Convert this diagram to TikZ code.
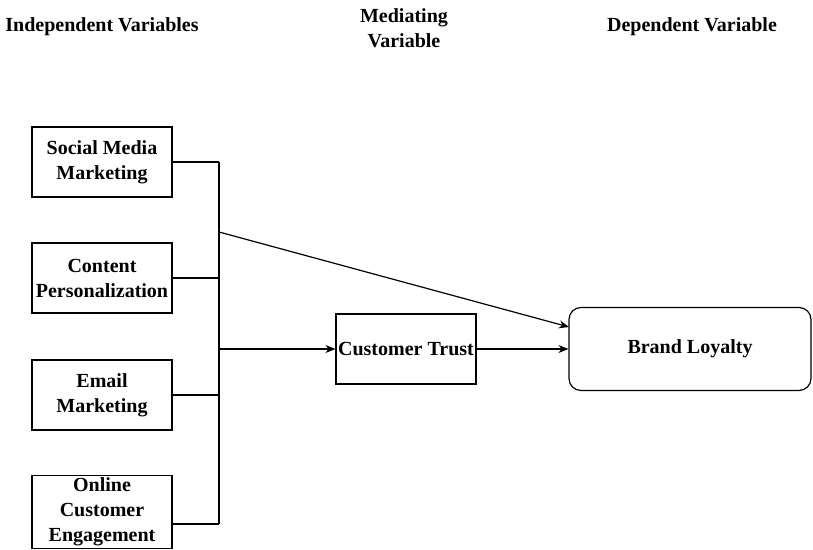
\documentclass[tikz,border=0pt]{standalone}
\usepackage{fontspec}
\setmainfont{Liberation Serif}[BoldFont={Liberation Serif Bold}]
\usetikzlibrary{arrows.meta}
\begin{document}
\begin{tikzpicture}[x=0.5pt, y=-0.5pt, line width=0.6pt, >={Stealth[length=5pt,width=4pt]},
	every node/.style={font=\fontsize{10}{12.5}\selectfont\bfseries, align=center},
	varbox/.style={draw, minimum width=70pt, minimum height=35pt, inner sep=1pt},
	header/.style={inner sep=0pt}]
	\useasboundingbox (0,0) rectangle (813,550);
	% 标题
	\node[header] (hind) at (102,27) {Independent Variables};
	\node[header] (hmed) at (404,28) {Mediating\\Variable};
	\node[header] (hdep) at (692,27) {Dependent Variable};
	
	% 自变量
	\node[varbox] (smm) at (102,162) {Social Media\\Marketing};
	\node[varbox] (cp) at (102,278) {Content\\Personalization};
	\node[varbox] (em) at (102,395) {Email\\Marketing};
	\node[varbox] (oce) at (102,512) {Online\\Customer\\Engagement};
	
	% 中介变量与因变量
	\node[varbox] (trust) at (406,349) {Customer Trust};
	\node[varbox, minimum width=121pt, minimum height=41.5pt, rounded corners=6pt] (loyalty) at (690,349) {Brand Loyalty};
	
	% 汇总线
	\coordinate (bustop) at (219,162);
	\coordinate (busbot) at (219,524);
	\coordinate (busdiag) at (219,232);
	\coordinate (busmid) at (219,349);
	\coordinate (loyin) at (569,327);
	\draw (bustop) -- (busbot);
	\draw (smm.east) -- (bustop);
	\draw (cp.east) -- (cp.east -| bustop);
	\draw (em.east) -- (em.east -| bustop);
	\draw (oce.east |- busbot) -- (busbot);
	
	% 箭头
	\draw[->] (busdiag) -- (loyin);
	\draw[->] (busmid) -- (trust.west);
	\draw[->] (trust.east) -- (loyalty.west);
\end{tikzpicture}
\end{document}
